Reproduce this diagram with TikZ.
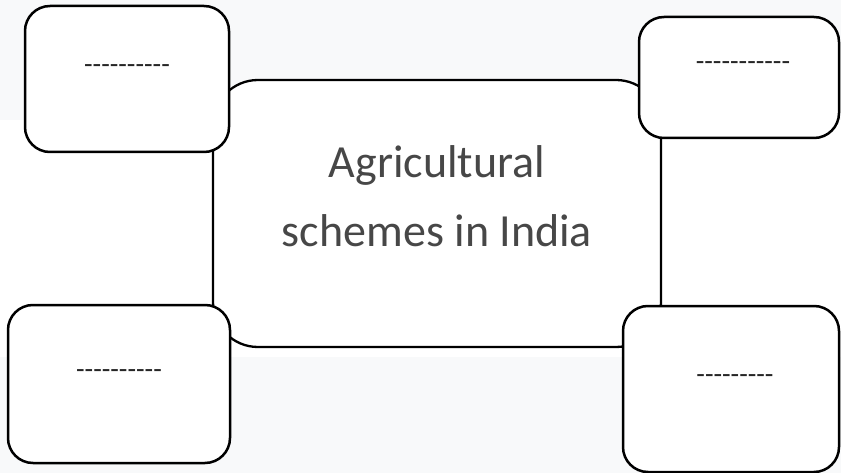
\documentclass[tikz,border=0pt]{standalone}
\usepackage{fontspec}
\setmainfont{Carlito}
\newfontfamily\dashfont[Ligatures=TeXOff]{Carlito}
\definecolor{pagegray}{HTML}{F8F9FA}
\definecolor{textgray}{HTML}{474747}
\begin{document}
\begin{tikzpicture}[x=1pt,y=-1pt,
  box/.style={draw=black, fill=white, line width=2.5pt, rounded corners=25pt, inner sep=0pt, outer sep=0pt},
  centerbox/.style={draw=black, fill=white, line width=2.3pt, rounded corners=45pt, inner sep=0pt, outer sep=0pt},
  blank/.style={font=\dashfont\fontsize{28}{34}\selectfont, text=black!85, anchor=base, inner sep=0pt},
  title/.style={font=\fontsize{46}{69}\selectfont, text=textgray, anchor=base, inner sep=0pt}]
\useasboundingbox (0,0) rectangle (841,473);
\fill[pagegray] (0,0) rectangle (841,473);
\fill[white] (0,120) rectangle (841,357);
\node[centerbox, minimum width=448pt, minimum height=267pt] (center) at (437,213.5) {};
\node[title] (t1) at (437,178) {Agricultural};
\node[title] (t2) at (437,247) {schemes in India};
\node[box, minimum width=204pt, minimum height=146pt] (tl) at (127,79) {};
\node[box, minimum width=200pt, minimum height=121pt] (tr) at (739,77.5) {};
\node[box, minimum width=222pt, minimum height=158pt] (bl) at (119,384) {};
\node[box, minimum width=216pt, minimum height=166pt] (br) at (731,389) {};
\node[blank] (tltext) at (127,73.5) {----------};
\node[blank] (trtext) at (743,70.5) {-----------};
\node[blank] (bltext) at (119,378.5) {----------};
\node[blank] (brtext) at (735,383.5) {---------};
\end{tikzpicture}
\end{document}
